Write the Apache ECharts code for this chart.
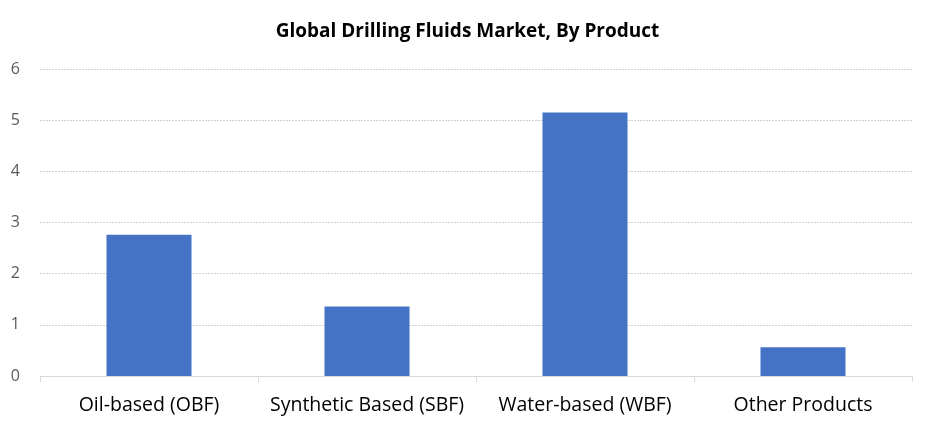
<!DOCTYPE html>
<html><head><meta charset="utf-8">
<script src="https://cdn.jsdelivr.net/npm/echarts@6/dist/echarts.min.js"></script>
<style>html,body{margin:0;padding:0;background:#fff}#c{width:935px;height:432px}</style>
</head><body><div id="c"></div>
<script>
const categories = ['Oil-based (OBF)', 'Synthetic Based (SBF)', 'Water-based (WBF)', 'Other Products'];
const values = [2.76, 1.36, 5.15, 0.56];
const yTicks = [0, 1, 2, 3, 4, 5, 6];

const chart = echarts.init(document.getElementById('c'));
chart.setOption({
  animation: false,
  title: {
    text: 'Global Drilling Fluids Market, By Product',
    left: 'center', top: 17,
    textStyle: { fontFamily: 'Open Sans', fontWeight: 'bold', fontSize: 19, color: '#000' }
  },
  grid: { left: 40, right: 23, top: 69, bottom: 56 },
  xAxis: {
    type: 'category', data: categories,
    axisLine: { lineStyle: { color: '#d9d9d9', width: 1 } },
    axisTick: { show: true, length: 6, lineStyle: { color: '#d9d9d9' } },
    axisLabel: { fontFamily: 'Open Sans', fontSize: 19.5, color: '#000', margin: 19, interval: 0 }
  },
  yAxis: {
    type: 'value', min: yTicks[0], max: yTicks[yTicks.length - 1], interval: 1,
    axisLine: { show: false }, axisTick: { show: false },
    axisLabel: { fontFamily: 'Open Sans', fontSize: 16, color: '#595959', margin: 20 },
    splitLine: { lineStyle: { color: '#d0d0d0', type: [2, 1], width: 1 } }
  },
  series: [{
    type: 'bar', data: values, barWidth: '39%',
    itemStyle: { color: '#4472c4' }
  }]
});
</script></body></html>
